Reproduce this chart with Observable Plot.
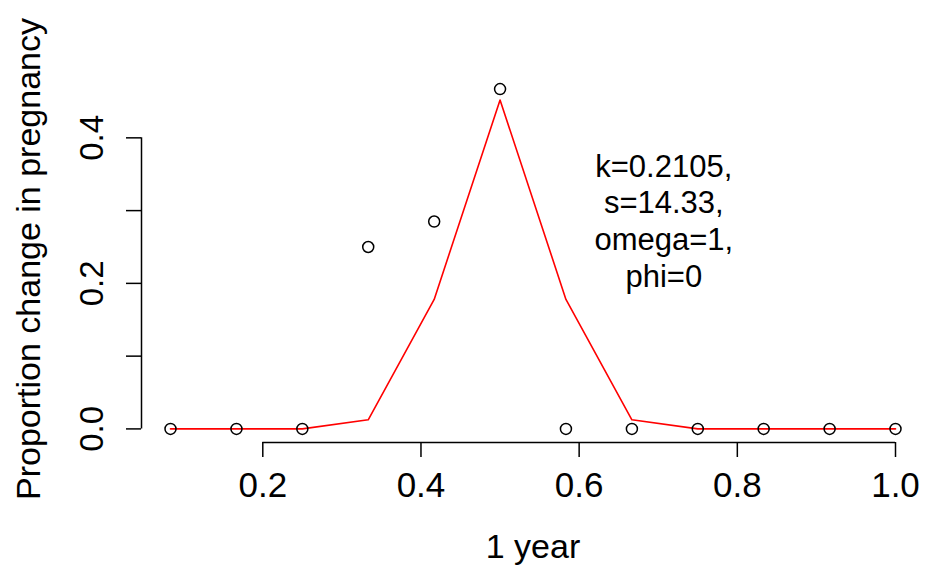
<!DOCTYPE html>
<html>
<head>
<meta charset="utf-8">
<script src="https://cdn.jsdelivr.net/npm/d3@7"></script>
<script src="https://cdn.jsdelivr.net/npm/@observablehq/plot@0.6"></script>
<style>
  html, body { margin: 0; padding: 0; background: #ffffff; }
  #chart svg { display: block; }
</style>
</head>
<body>
<div id="chart"></div>
<script>
// ---- data ----
const months = [0.0833, 0.1667, 0.25, 0.3333, 0.4167, 0.5, 0.5833, 0.6667, 0.75, 0.8333, 0.9167, 1.0];
const observed = [0, 0, 0, 0.25, 0.285, 0.467, 0, 0, 0, 0, 0, 0];
const fitted = [0, 0, 0, 0.0125, 0.178, 0.452, 0.178, 0.0125, 0, 0, 0, 0];
const xTicks = [0.2, 0.4, 0.6, 0.8, 1.0];
const yTicks = [0.0, 0.1, 0.2, 0.3, 0.4];
const yLabelTicks = [0.0, 0.2, 0.4];
const xTitle = "1 year";
const yTitle = "Proportion change in pregnancy";
const annotation = ["k=0.2105,", "s=14.33,", "omega=1,", "phi=0"];
const annotationAt = {x: 0.707, y: 0.287};

// ---- build ----
const obsData = months.map((m, i) => ({x: m, y: observed[i]}));
const fitData = months.map((m, i) => ({x: m, y: fitted[i]}));

// R-style 4% padding
function pad(vals) {
  const lo = d3.min(vals), hi = d3.max(vals), r = hi - lo;
  return [lo - 0.04 * r, hi + 0.04 * r];
}
const xDomain = pad(months);
const yDomain = pad(observed);

const font = "'Liberation Sans', Arial, Helvetica, sans-serif";

const chart = Plot.plot({
  width: 925,
  height: 567,
  marginLeft: 141,
  marginRight: 1,
  marginTop: 75,
  marginBottom: 125,
  style: {background: "#ffffff", color: "#000000", fontFamily: font},
  x: {domain: xDomain, axis: null},
  y: {domain: yDomain, axis: null},
  marks: [
    // axis lines spanning first to last tick (R style)
    Plot.ruleY([yDomain[0]], {x1: xTicks[0], x2: xTicks[xTicks.length - 1], stroke: "#000", strokeWidth: 1.5}),
    Plot.ruleX([xDomain[0]], {y1: yTicks[0], y2: yTicks[yTicks.length - 1], stroke: "#000", strokeWidth: 1.5}),
    Plot.axisX({ticks: xTicks, tickSize: 15, tickPadding: 15, fontSize: 35, strokeWidth: 1.5,
                tickFormat: d3.format(".1f"), label: null, anchor: "bottom"}),
    Plot.axisY({ticks: yTicks, tickSize: 15, tickFormat: () => "", strokeWidth: 1.5, label: null, anchor: "left"}),
    Plot.text(yLabelTicks, {y: d => d, frameAnchor: "left", dx: -49, rotate: -90,
                            text: d => d3.format(".1f")(d), fontSize: 33, lineAnchor: "middle", textAnchor: "middle", fill: "#000"}),
    // titles
    Plot.text([xTitle], {frameAnchor: "bottom", dy: 105, text: d => d, fontSize: 34, lineAnchor: "middle", textAnchor: "middle", fill: "#000"}),
    Plot.text([yTitle], {frameAnchor: "left", dx: -112, rotate: -90, text: d => d, fontSize: 34, lineAnchor: "middle", textAnchor: "middle", fill: "#000"}),
    // fitted curve
    Plot.line(fitData, {x: "x", y: "y", stroke: "#ff0000", strokeWidth: 1.6}),
    // observed points
    Plot.dot(obsData, {x: "x", y: "y", r: 5.5, stroke: "#000", strokeWidth: 1.5, fill: "none"}),
    // annotation
    Plot.text([annotation.join("\n")], {x: annotationAt.x, y: annotationAt.y, text: d => d,
                                         fontSize: 31, lineHeight: 1.18, lineAnchor: "middle", textAnchor: "middle", fill: "#000"})
  ]
});
document.getElementById("chart").appendChild(chart);
</script>
</body>
</html>
